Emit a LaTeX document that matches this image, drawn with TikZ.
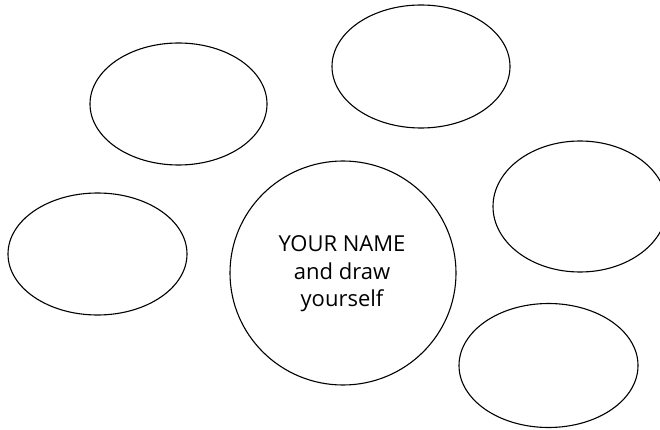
\documentclass[tikz,border=0pt]{standalone}
\usepackage{fontspec}
\setmainfont{Open Sans}
\begin{document}
\begin{tikzpicture}[x=1pt,y=-1pt,
  bubble/.style={draw=black, line width=1.1pt}]
\useasboundingbox (0,0) rectangle (660,430);
\draw[bubble] (178.5,104) ellipse [x radius=88.5, y radius=61];
\draw[bubble] (421,66.5) ellipse [x radius=89, y radius=61.5];
\draw[bubble] (580,206.5) ellipse [x radius=87, y radius=65.5];
\draw[bubble] (97.5,254) ellipse [x radius=89.5, y radius=61];
\draw[bubble] (548.5,365.5) ellipse [x radius=89.5, y radius=62];
\draw[bubble] (343,273) ellipse [x radius=113, y radius=112];
\node[align=center, font=\fontsize{22}{27.5}\selectfont] (name) at (342,274) {YOUR NAME\\and draw\\yourself};
\end{tikzpicture}
\end{document}
